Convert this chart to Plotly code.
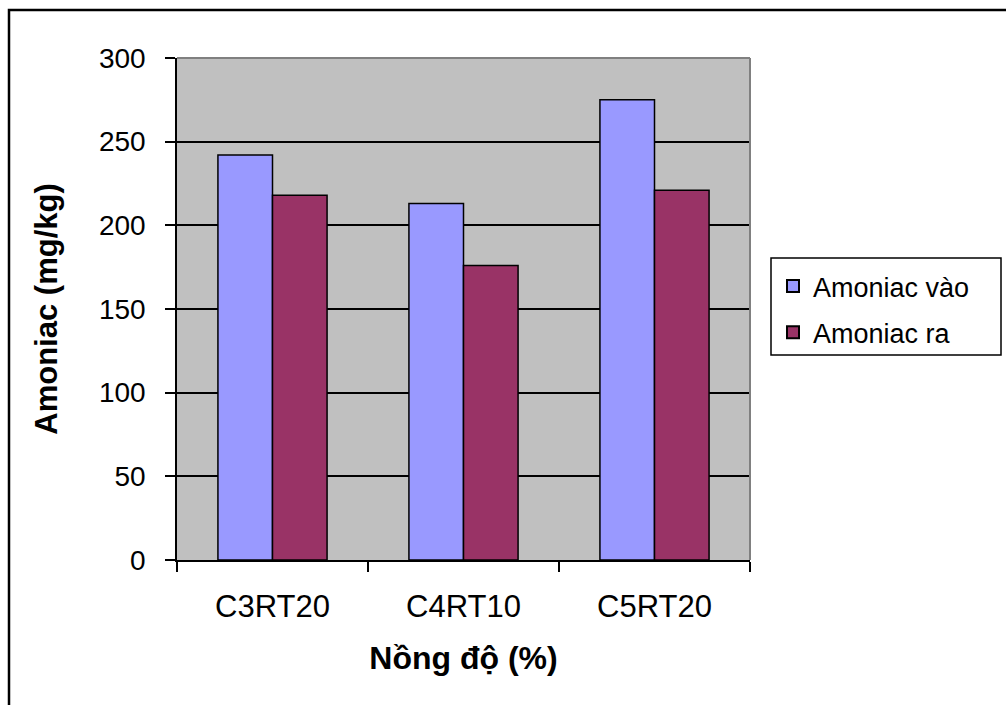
import plotly.graph_objects as go

# Ammonia concentration entering and leaving, per treatment
categories = ["C3RT20", "C4RT10", "C5RT20"]
amoniac_vao = [242, 213, 275]
amoniac_ra = [218, 176, 221]
y_ticks = [0, 50, 100, 150, 200, 250, 300]

W, H = 1006, 705
L, R, T, B = 177, 256, 58, 145
plot_w = W - L - R
plot_h = H - T - B

def px_x(p):
    return (p - L) / plot_w

def px_y(p):
    return (H - B - p) / plot_h

fig = go.Figure()
fig.add_trace(go.Bar(
    x=categories, y=amoniac_vao, name="Amoniac vào", legendgroup="vao",
    marker=dict(color="#9999FF", line=dict(color="black", width=1.5)),
))
fig.add_trace(go.Bar(
    x=categories, y=amoniac_ra, name="Amoniac ra", legendgroup="ra",
    marker=dict(color="#993366", line=dict(color="black", width=1.5)),
))

font_family = "Arial, Liberation Sans, sans-serif"

fig.update_layout(
    width=W, height=H,
    margin=dict(l=L, r=R, t=T, b=B, autoexpand=False),
    paper_bgcolor="white",
    plot_bgcolor="#C0C0C0",
    barmode="group",
    bargap=1.5 / 3.5,
    bargroupgap=0,
    font=dict(family=font_family, color="black", size=28),
    showlegend=True,
    legend=dict(
        x=px_x(773), y=px_y(262), xanchor="left", yanchor="top",
        borderwidth=0, bgcolor="rgba(0,0,0,0)",
        font=dict(size=27, family=font_family),
        itemsizing="constant", tracegroupgap=8,
    ),
    xaxis=dict(
        type="category",
        showline=True, linecolor="black", linewidth=1.5,
        ticks="outside", tickson="boundaries", ticklen=10,
        tickcolor="black", tickwidth=1.5,
        tickfont=dict(size=31),
        ticklabelstandoff=18,
        showgrid=False,
        title=dict(text="<b>Nồng độ (%)</b>", font=dict(size=32), standoff=24),
        automargin=False,
    ),
    yaxis=dict(
        range=[0, 300],
        tickvals=y_ticks,
        showline=True, linecolor="black", linewidth=1.5,
        ticks="outside", ticklen=10, tickcolor="black", tickwidth=1.5,
        tickfont=dict(size=28),
        ticklabelstandoff=14,
        showgrid=True, gridcolor="black", gridwidth=1.5,
        zeroline=False,
        title=dict(text="<b>Amoniac (mg/kg)</b>", font=dict(size=31), standoff=32),
        automargin=False,
    ),
    shapes=[
        # grey top and right edges of the plotting area
        dict(type="line", xref="paper", yref="paper", x0=0, x1=1, y0=1, y1=1,
             line=dict(color="#808080", width=2)),
        dict(type="line", xref="paper", yref="paper", x0=1, x1=1, y0=0, y1=1,
             line=dict(color="#808080", width=2)),
        # legend box
        dict(type="rect", xref="paper", yref="paper",
             x0=px_x(771), y0=px_y(355), x1=px_x(1001), y1=px_y(258),
             line=dict(color="black", width=1.5), fillcolor="white",
             layer="below"),
        # chart frame
        dict(type="rect", xref="paper", yref="paper",
             x0=px_x(9), y0=px_y(H + 20), x1=px_x(W + 20), y1=px_y(10),
             line=dict(color="black", width=2.5), fillcolor="rgba(0,0,0,0)",
             layer="above"),
    ],
)

fig.write_html("out.html")
